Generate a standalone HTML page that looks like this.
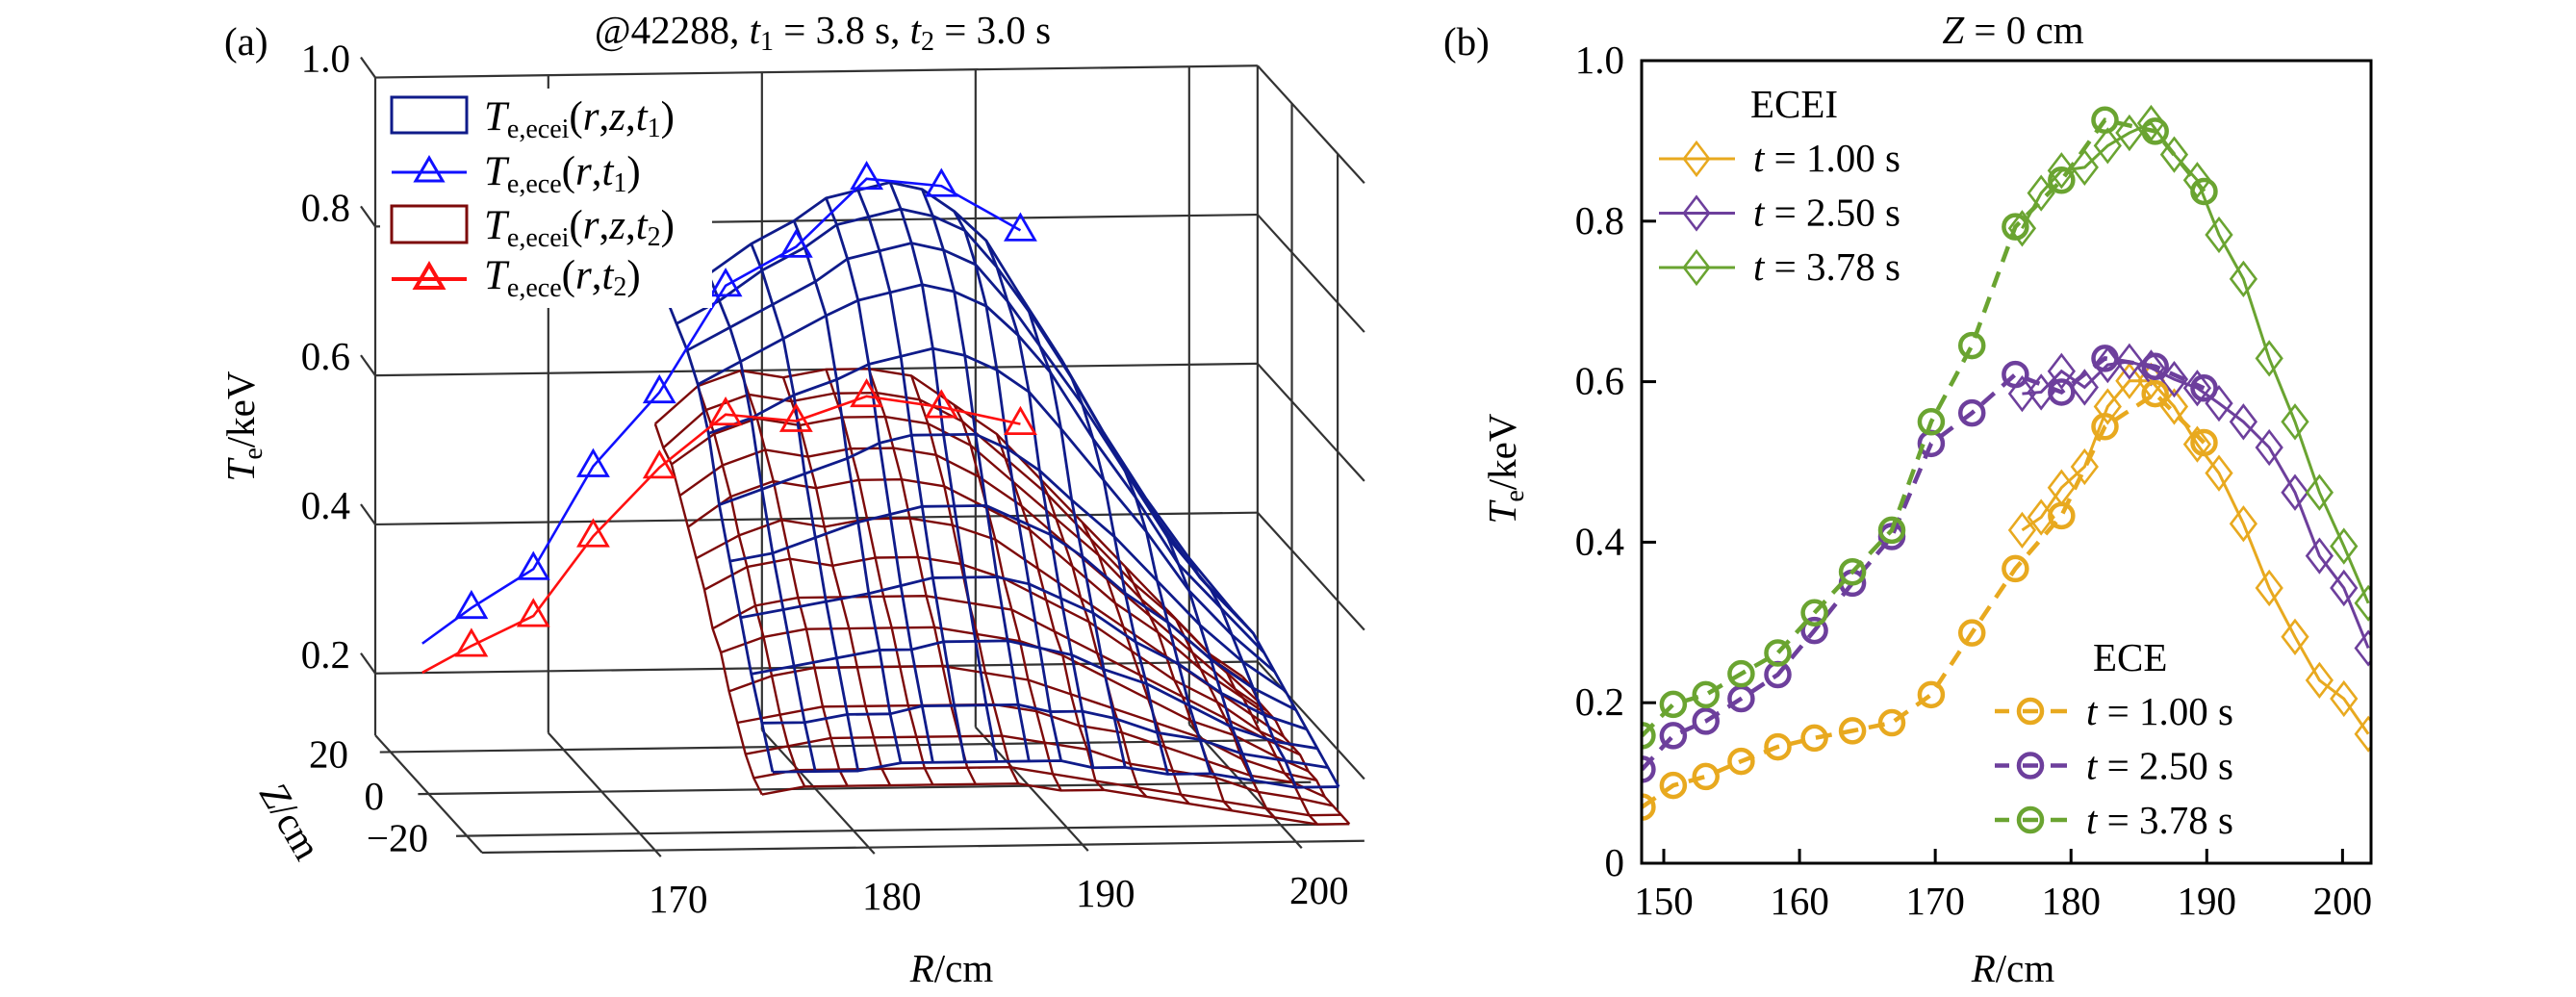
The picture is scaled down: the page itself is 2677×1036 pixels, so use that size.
<!DOCTYPE html>
<html><head><meta charset="utf-8"><style>
html,body{margin:0;padding:0;background:#fff;}
svg{display:block;}
text{font-family:"Liberation Serif","DejaVu Serif",serif;}
</style></head><body>
<svg id="fig" width="2677" height="1036" viewBox="0 0 2677 1036" xmlns="http://www.w3.org/2000/svg" font-family="Liberation Serif, serif">
<rect width="2677" height="1036" fill="#fff"/>
<g id="pa"></g>
<g id="pb"></g>
</svg>
<script>
// ---------- Panel (b) data ----------
const eceR = [148.4,150.7,153.1,155.7,158.4,161.1,163.9,166.8,169.7,172.7,175.9,179.3,182.5,186.2,189.8];
const eceT1 = [0.07,0.097,0.108,0.127,0.145,0.156,0.165,0.175,0.21,0.287,0.367,0.433,0.544,0.585,0.524];
const eceT2 = [0.117,0.159,0.177,0.205,0.235,0.29,0.349,0.407,0.523,0.561,0.609,0.587,0.629,0.619,0.592];
const eceT3 = [0.159,0.198,0.21,0.236,0.262,0.312,0.363,0.415,0.55,0.645,0.793,0.851,0.926,0.912,0.837];
const eceiR = [176.4,177.8,179.3,181.0,182.7,184.3,185.9,187.6,189.3,190.9,192.7,194.6,196.5,198.3,200.1,201.9];
const eceiT1 = [0.415,0.431,0.468,0.494,0.569,0.601,0.601,0.569,0.522,0.486,0.423,0.343,0.282,0.228,0.205,0.161];
const eceiT2 = [0.585,0.587,0.613,0.593,0.621,0.625,0.617,0.603,0.592,0.573,0.55,0.518,0.462,0.383,0.343,0.268];
const eceiT3 = [0.791,0.835,0.863,0.867,0.894,0.91,0.922,0.883,0.851,0.783,0.728,0.629,0.55,0.462,0.395,0.324];
const bXTicks = [150,160,170,180,190,200];
const bYTicks = [0,0.2,0.4,0.6,0.8,1.0];
const bYTickLabels = ["0","0.2","0.4","0.6","0.8","1.0"];
const legendTimes = ["1.00","2.50","3.78"];

// ---------- Panel (a) data ----------
const a_eceR = [161.6,163.9,166.8,169.6,172.7,175.8,179.1,182.4,185.9,189.6];
const a_eceT1 = [0.319,0.366,0.417,0.554,0.652,0.794,0.845,0.935,0.924,0.863];
const a_eceT2 = [0.280,0.315,0.354,0.460,0.551,0.621,0.611,0.643,0.627,0.603];
const blueR = [175.5,177.5,179.5,181.5,183,184.5,186,187.5,189,190.5,192,194,196,198,200,202];
const blueGrid = [
[.70,.73,.77,.80,.83,.84,.85,.84,.81,.77,.70,.61,.51,.42,.34,.27],
[.68,.71,.75,.78,.81,.82,.83,.82,.80,.75,.69,.60,.50,.41,.33,.27],
[.66,.69,.72,.75,.78,.79,.80,.79,.77,.72,.66,.58,.49,.40,.33,.27],
[.63,.66,.69,.72,.74,.75,.76,.75,.73,.69,.64,.55,.47,.38,.32,.26],
[.58,.60,.63,.65,.67,.68,.69,.68,.66,.63,.58,.51,.44,.36,.30,.25],
[.50,.52,.54,.56,.58,.59,.59,.59,.57,.54,.50,.45,.39,.33,.28,.24],
[.44,.45,.47,.49,.50,.51,.51,.51,.49,.47,.44,.39,.35,.30,.26,.23],
[.38,.39,.40,.41,.42,.43,.43,.43,.42,.40,.38,.34,.31,.27,.24,.22],
[.32,.33,.34,.35,.35,.36,.36,.36,.35,.34,.32,.30,.27,.24,.22,.21],
[.27,.27,.28,.28,.29,.29,.29,.29,.28,.28,.27,.25,.24,.22,.21,.20],
[.22,.22,.22,.23,.23,.23,.23,.23,.23,.22,.22,.21,.21,.20,.19,.19]];
const redR = [175,177,179,181,183,185,187,189,191,193,195,197,199,201,202.5];
const redGrid = [
[.53,.58,.60,.59,.60,.60,.59,.55,.51,.45,.39,.33,.27,.21,.18],
[.51,.56,.58,.57,.58,.58,.57,.54,.49,.44,.38,.32,.27,.21,.18],
[.50,.54,.56,.55,.56,.56,.55,.52,.47,.42,.37,.31,.26,.21,.17],
[.47,.51,.53,.52,.53,.53,.52,.49,.45,.40,.35,.30,.25,.20,.17],
[.44,.48,.50,.49,.50,.50,.49,.46,.43,.38,.33,.29,.24,.20,.17],
[.41,.44,.46,.45,.46,.46,.45,.43,.39,.35,.31,.27,.23,.19,.16],
[.38,.41,.42,.41,.42,.42,.41,.39,.36,.33,.29,.25,.22,.18,.16],
[.34,.37,.38,.38,.38,.38,.37,.36,.33,.30,.27,.24,.21,.18,.16],
[.32,.34,.35,.35,.35,.35,.34,.33,.31,.28,.25,.22,.20,.17,.15],
[.28,.30,.31,.31,.31,.31,.30,.29,.27,.25,.23,.21,.18,.16,.15],
[.25,.26,.27,.27,.27,.27,.27,.26,.24,.23,.21,.19,.17,.16,.14],
[.22,.23,.24,.24,.24,.24,.24,.23,.22,.20,.19,.18,.16,.15,.14],
[.20,.21,.21,.21,.21,.21,.21,.20,.19,.18,.17,.16,.15,.14,.14],
[.19,.20,.20,.20,.20,.20,.20,.19,.19,.18,.17,.16,.15,.14,.14]];
const aTTicks = [0.2,0.4,0.6,0.8,1.0];
const aTTickLabels = ["0.2","0.4","0.6","0.8","1.0"];
const aRTicks = [170,180,190,200];
const aZTicks = [20,0,-20];
const aZTickLabels = ["20","0","\u221220"];

const NS="http://www.w3.org/2000/svg";
function mk(tag,parent,attrs){const e=document.createElementNS(NS,tag);
  if(tag==='text')e.setAttribute('font-family','Liberation Serif, serif');
  for(const k in attrs)e.setAttribute(k,attrs[k]);parent.appendChild(e);return e;}

// ================= Panel (b) =================
const pb=document.getElementById('pb');
const bx0=1706,bx1=2464,by0=897,by1=63,bRmin=148.37,bRmax=202.1;
const bxs=R=>bx0+(R-bRmin)/(bRmax-bRmin)*(bx1-bx0);
const bys=T=>by0-T*(by0-by1);
const colors=["#e8a91f","#6d3f9c","#6aa431"];
const cp=mk('clipPath',pb,{id:'bclip'});mk('rect',cp,{x:bx0,y:by1,width:bx1-bx0,height:by0-by1});
const series=mk('g',pb,{'clip-path':'url(#bclip)'});


const eceSets=[eceT1,eceT2,eceT3], eceiSets=[eceiT1,eceiT2,eceiT3];
for(let s=0;s<3;s++){
  const g=mk('g',series,{});
  
  
  const pts=eceiR.map((r,i)=>bxs(r)+','+bys(eceiSets[s][i])).join(' ');
  mk('polyline',g,{points:pts,fill:'none',stroke:colors[s],'stroke-width':3});
  eceiR.forEach((r,i)=>{const x=bxs(r),y=bys(eceiSets[s][i]);
    const d=mk('polygon',g,{points:`${x},${y-17} ${x+13},${y} ${x},${y+17} ${x-13},${y}`,fill:'none',stroke:colors[s],'stroke-width':2.6});
    
    });
}
for(let s=0;s<3;s++){
  const g=mk('g',series,{});
  
  
  const pts=eceR.map((r,i)=>bxs(r)+','+bys(eceSets[s][i])).join(' ');
  mk('polyline',g,{points:pts,fill:'none',stroke:colors[s],'stroke-width':4.5,'stroke-dasharray':'17 11'});
  eceR.forEach((r,i)=>{const x=bxs(r),y=bys(eceSets[s][i]);
    const c=mk('circle',g,{cx:x,cy:y,r:12,fill:'none',stroke:colors[s],'stroke-width':4.5});
    
    });
}
const fr=mk('rect',pb,{x:bx0,y:by1,width:bx1-bx0,height:by0-by1,fill:'none',stroke:'#000','stroke-width':3});


bXTicks.forEach(v=>{const x=bxs(v);
  mk('line',pb,{x1:x,y1:by0,x2:x,y2:by0-15,stroke:'#000','stroke-width':3});
  const t=mk('text',pb,{x:x,y:950,'font-size':41,'text-anchor':'middle'});t.textContent=v;
  
  });
bYTicks.forEach((v,i)=>{const y=bys(v);
  mk('line',pb,{x1:bx0,y1:y,x2:bx0+15,y2:y,stroke:'#000','stroke-width':3});
  const t=mk('text',pb,{x:1688,y:y+13,'font-size':41,'text-anchor':'end'});t.textContent=bYTickLabels[i];
  
  });
let t=mk('text',pb,{x:1819,y:122,'font-size':41});t.textContent='ECEI';


legendTimes.forEach((tm,i)=>{const y=165+i*56.5;
  const g=mk('g',pb,{});
  
  
  mk('line',g,{x1:1724,y1:y,x2:1803,y2:y,stroke:colors[i],'stroke-width':3});
  mk('polygon',g,{points:`1763,${y-17} 1776,${y} 1763,${y+17} 1750,${y}`,fill:'none',stroke:colors[i],'stroke-width':2.6});
  const tx=mk('text',g,{x:1822,y:y+13,'font-size':41});
  tx.innerHTML='<tspan font-style="italic">t</tspan> = '+tm+' s';
});
t=mk('text',pb,{x:2175,y:697,'font-size':41});t.textContent='ECE';


legendTimes.forEach((tm,i)=>{const y=739+i*56.5;
  const g=mk('g',pb,{});
  
  
  mk('line',g,{x1:2073,y1:y,x2:2088,y2:y,stroke:colors[i],'stroke-width':4.5});
  mk('line',g,{x1:2131,y1:y,x2:2148,y2:y,stroke:colors[i],'stroke-width':4.5});
  mk('line',g,{x1:2102,y1:y,x2:2118,y2:y,stroke:colors[i],'stroke-width':4.5});
  mk('circle',g,{cx:2110,cy:y,r:12,fill:'none',stroke:colors[i],'stroke-width':4.5});
  const tx=mk('text',g,{x:2168,y:y+14,'font-size':41});
  tx.innerHTML='<tspan font-style="italic">t</tspan> = '+tm+' s';
});
t=mk('text',pb,{x:2092,y:1020,'font-size':41,'text-anchor':'middle'});
t.innerHTML='<tspan font-style="italic">R</tspan>/cm';


t=mk('text',pb,{x:0,y:0,'font-size':41,'text-anchor':'middle',transform:'translate(1575,487) rotate(-90)'});
t.innerHTML='<tspan font-style="italic">T</tspan><tspan font-size="28" dy="8">e</tspan><tspan dy="-8">/keV</tspan>';


t=mk('text',pb,{x:2092,y:45,'font-size':41,'text-anchor':'middle'});
t.innerHTML='<tspan font-style="italic">Z</tspan> = 0 cm';


t=mk('text',pb,{x:1500,y:57,'font-size':41});t.textContent='(b)';



// ================= Panel (a) =================
const pa=document.getElementById('pa');
const RL=161.9,RH=203.2,ZB=28,ZF=-28,TF=0.117;
function P(R,Z,T){const d=(ZB-Z)/(ZB-ZF);const xb=390+(R-RL)*22.2;
  return [xb+111*d, 764-(xb-390)*0.0134+122*d-(T-TF)*774];}
const ax='#333';
function L(g,a,b,w){mk('line',g,{x1:a[0],y1:a[1],x2:b[0],y2:b[1],stroke:ax,'stroke-width':w||2.2});}
const box=mk('g',pa,{});


aTTicks.forEach(v=>{L(box,P(RL,ZB,v),P(RH,ZB,v));L(box,P(RH,ZB,v),P(RH,ZF,v));
  const a=P(RL,ZB,v);L(box,a,[a[0]-15,a[1]-21]);});
[RL,170,180,190,200].forEach(r=>L(box,P(r,ZB,TF),P(r,ZB,1.0)));
[ZB,10,-14].forEach(z=>L(box,P(RH,z,TF),P(RH,z,1.0)));
aRTicks.forEach(r=>L(box,P(r,ZB,TF),P(r,ZF-3,TF)));
L(box,P(RL,ZB,TF),P(RL,ZF,TF));
aZTicks.forEach(z=>L(box,P(RL-0.5,z,TF),P(RH,z,TF)));
L(box,P(RL,ZF,TF),P(RH,ZF,TF));

function mesh(Rs,grid,color,w,name){
  const g=mk('g',pa,{});
  
  
  const n=grid.length;
  const Zs=grid.map((_,j)=>ZB-(ZB-ZF)*j/(n-1));
  for(let i=0;i<Rs.length;i++){
    const pts=Zs.map((z,j)=>P(Rs[i],z,grid[j][i]).join(',')).join(' ');
    mk('polyline',g,{points:pts,fill:'none',stroke:color,'stroke-width':w,'stroke-linejoin':'round'});}
  for(let j=0;j<n;j++){
    const pts=Rs.map((r,i)=>P(r,Zs[j],grid[j][i]).join(',')).join(' ');
    mk('polyline',g,{points:pts,fill:'none',stroke:color,'stroke-width':w,'stroke-linejoin':'round'});}
}
mesh(redR,redGrid,'#7d0a0a',2.4,'ecei-surface-t2');
mesh(blueR,blueGrid,'#0f1b8a',2.8,'ecei-surface-t1');
function eceLine(Ts,color,w,name){
  const g=mk('g',pa,{});
  
  
  const pts=a_eceR.map((r,i)=>P(r,0,Ts[i]));
  mk('polyline',g,{points:pts.map(p=>p.join(',')).join(' '),fill:'none',stroke:color,'stroke-width':w});
  pts.slice(1).forEach(p=>{const m=mk('polygon',g,{points:`${p[0]},${p[1]-16} ${p[0]+15},${p[1]+10} ${p[0]-15},${p[1]+10}`,fill:'none',stroke:color,'stroke-width':2.8});
    
    });
}
eceLine(a_eceT1,'#1010ff',2.6,'ece-line-t1');
eceLine(a_eceT2,'#ff1010',2.6,'ece-line-t2');
aTTicks.forEach((v,i)=>{const a=P(RL,ZB,v);
  const tx=mk('text',pa,{x:364,y:a[1]-6,'font-size':41,'text-anchor':'end'});tx.textContent=aTTickLabels[i];
  
  });
const zlx=[362,399,445];
aZTicks.forEach((z,i)=>{const a=P(RL,z,TF);
  const tx=mk('text',pa,{x:zlx[i],y:a[1]+16,'font-size':41,'text-anchor':'end'});tx.textContent=aZTickLabels[i];
  
  });
aRTicks.forEach(r=>{const a=P(r,ZF-3,TF);
  const tx=mk('text',pa,{x:a[0]+18,y:a[1]+58,'font-size':41,'text-anchor':'middle'});tx.textContent=r;
  
  });
t=mk('text',pa,{x:989,y:1020,'font-size':41,'text-anchor':'middle'});
t.innerHTML='<tspan font-style="italic">R</tspan>/cm';


t=mk('text',pa,{x:0,y:0,'font-size':41,'text-anchor':'middle',transform:'translate(264,443) rotate(-90)'});
t.innerHTML='<tspan font-style="italic">T</tspan><tspan font-size="28" dy="8">e</tspan><tspan dy="-8">/keV</tspan>';


t=mk('text',pa,{x:0,y:0,'font-size':41,'text-anchor':'middle',transform:'translate(290,860) rotate(60)'});
t.innerHTML='<tspan font-style="italic">Z</tspan>/cm';


t=mk('text',pa,{x:855,y:45,'font-size':41,'text-anchor':'middle'});
t.innerHTML='@42288, <tspan font-style="italic">t</tspan><tspan font-size="28" dy="7">1</tspan><tspan dy="-7"> = 3.8 s, </tspan><tspan font-style="italic">t</tspan><tspan font-size="28" dy="7">2</tspan><tspan dy="-7"> = 3.0 s</tspan>';


t=mk('text',pa,{x:233,y:57,'font-size':41});t.textContent='(a)';


const lg=mk('g',pa,{});


mk('rect',lg,{x:395,y:92,width:345,height:228,fill:'#fff'});
mk('rect',lg,{x:407,y:101,width:78,height:37,fill:'none',stroke:'#0f1b8a','stroke-width':3});
mk('rect',lg,{x:407,y:214,width:78,height:38,fill:'none',stroke:'#7d0a0a','stroke-width':3});
mk('line',lg,{x1:407,y1:179,x2:485,y2:179,stroke:'#1010ff','stroke-width':3});
mk('polygon',lg,{points:'446,164 460,188 432,188',fill:'none',stroke:'#1010ff','stroke-width':3});
mk('line',lg,{x1:407,y1:290,x2:485,y2:290,stroke:'#ff1010','stroke-width':4});
mk('polygon',lg,{points:'446,275 460,299 432,299',fill:'none',stroke:'#ff1010','stroke-width':4});
const labs=[['e,ecei','r,z,','1',135],['e,ece','r,','1',192],['e,ecei','r,z,','2',248],['e,ece','r,','2',300]];
labs.forEach(l=>{const tx=mk('text',lg,{x:503,y:l[3],'font-size':43});
  const args=l[1].split(',').filter(s=>s).map(s=>'<tspan font-style="italic">'+s+'</tspan>,').join('');
  tx.innerHTML='<tspan font-style="italic">T</tspan><tspan font-size="28" dy="8">'+l[0]+'</tspan><tspan dy="-8">(</tspan>'+args+'<tspan font-style="italic">t</tspan><tspan font-size="28" dy="7">'+l[2]+'</tspan><tspan dy="-7">)</tspan>';
  
  });
</script>
</body></html>
